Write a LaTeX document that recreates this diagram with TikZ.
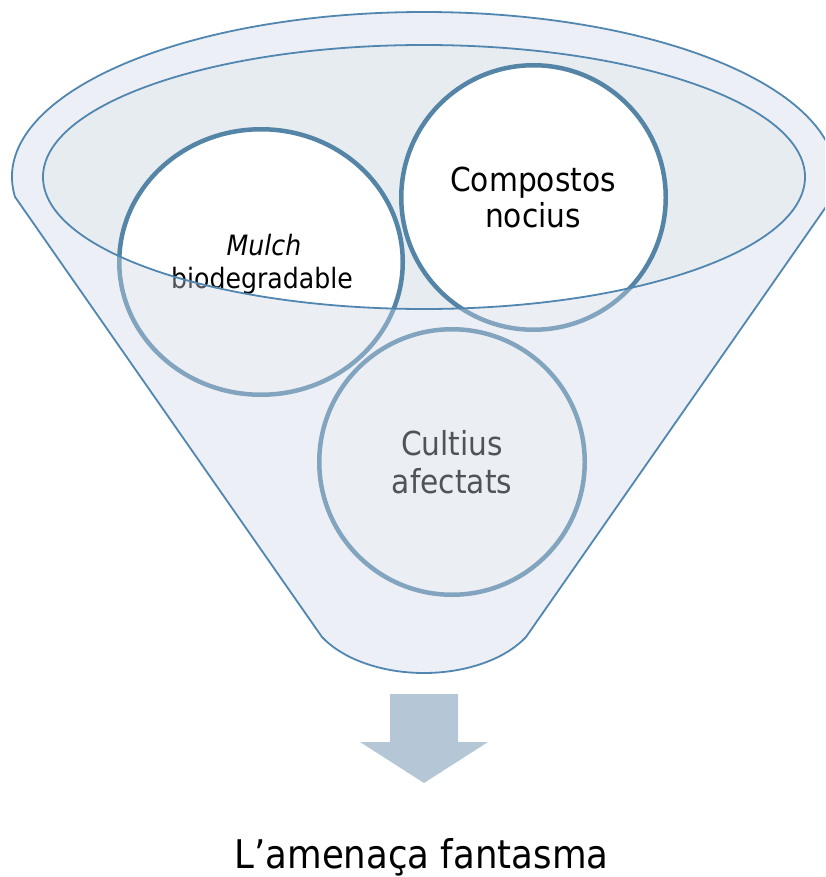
\documentclass[tikz,border=0pt]{standalone}
\usepackage{fontspec}
\setmainfont{DejaVu Sans}[FakeStretch=0.9]
\usetikzlibrary{shapes.geometric}

\definecolor{bowl}{RGB}{231,236,241}
\definecolor{ringdark}{RGB}{85,133,166}
\definecolor{rim}{RGB}{80,134,175}
\definecolor{veil}{RGB}{205,215,228}
\definecolor{arrowfill}{RGB}{181,199,215}

% outline of the funnel, drawn about the centre of its mouth
\newcommand\funnelpath{(-409.02,19.82)
  arc[start angle=173.1, end angle=366.9, x radius=412, y radius=165]
  -- (102,460)
  arc[start angle=30, end angle=150, x radius=117.8, y radius=72]
  -- cycle}

\begin{document}
\begin{tikzpicture}[x=1pt, y=-1pt,
  ring/.style={draw=ringdark, line width=4.5pt, fill=white, inner sep=0pt},
  txt/.style={inner sep=0pt, anchor=base, text=black},
  small/.style={font=\fontsize{28}{33}\selectfont},
  mid/.style={font=\fontsize{33}{37}\selectfont},
  big/.style={font=\fontsize{39.5}{44}\selectfont},
  outline/.style={draw=rim, line width=1.8pt, line join=round}]
\useasboundingbox (0,0) rectangle (825,877);
\clip (0,0) rectangle (825,877);

% inside of the bowl
\fill[bowl] (424,177) ellipse[x radius=381, y radius=132];

% the three items
\node[ring, ellipse, minimum width=283.5pt, minimum height=265.5pt] (mulch) at (261,262) {};
\node[ring, circle, minimum size=264.5pt] (compost) at (533.5,197.5) {};
\node[ring, circle, minimum size=265.5pt] (cultius) at (452,462) {};

\node[txt, small, font=\fontsize{28}{33}\selectfont\itshape] (mulchA) at (264,255) {Mulch};
\node[txt, small] (mulchB) at (262,288) {biodegradable};
\node[txt, mid] (compA) at (533,192) {Compostos};
\node[txt, mid] (compB) at (533,228) {nocius};
\node[txt, mid] (cultA) at (452,455) {Cultius};
\node[txt, mid] (cultB) at (452,493) {afectats};

% translucent funnel body over the items, open at the mouth
\begin{scope}[shift={(424,177)}]
  \fill[veil, fill opacity=0.39, even odd rule] \funnelpath
    (0,0) ellipse[x radius=381, y radius=132];
  \draw[outline] \funnelpath;
  \draw[outline] (0,0) ellipse[x radius=381, y radius=132];
\end{scope}

% downward arrow and result
\fill[arrowfill] (390,694) -- (458,694) -- (458,742) -- (488,742)
  -- (424,783) -- (360,742) -- (390,742) -- cycle;
\node[txt, big] (title) at (421.5,868) {L’amenaça fantasma};
\end{tikzpicture}
\end{document}
